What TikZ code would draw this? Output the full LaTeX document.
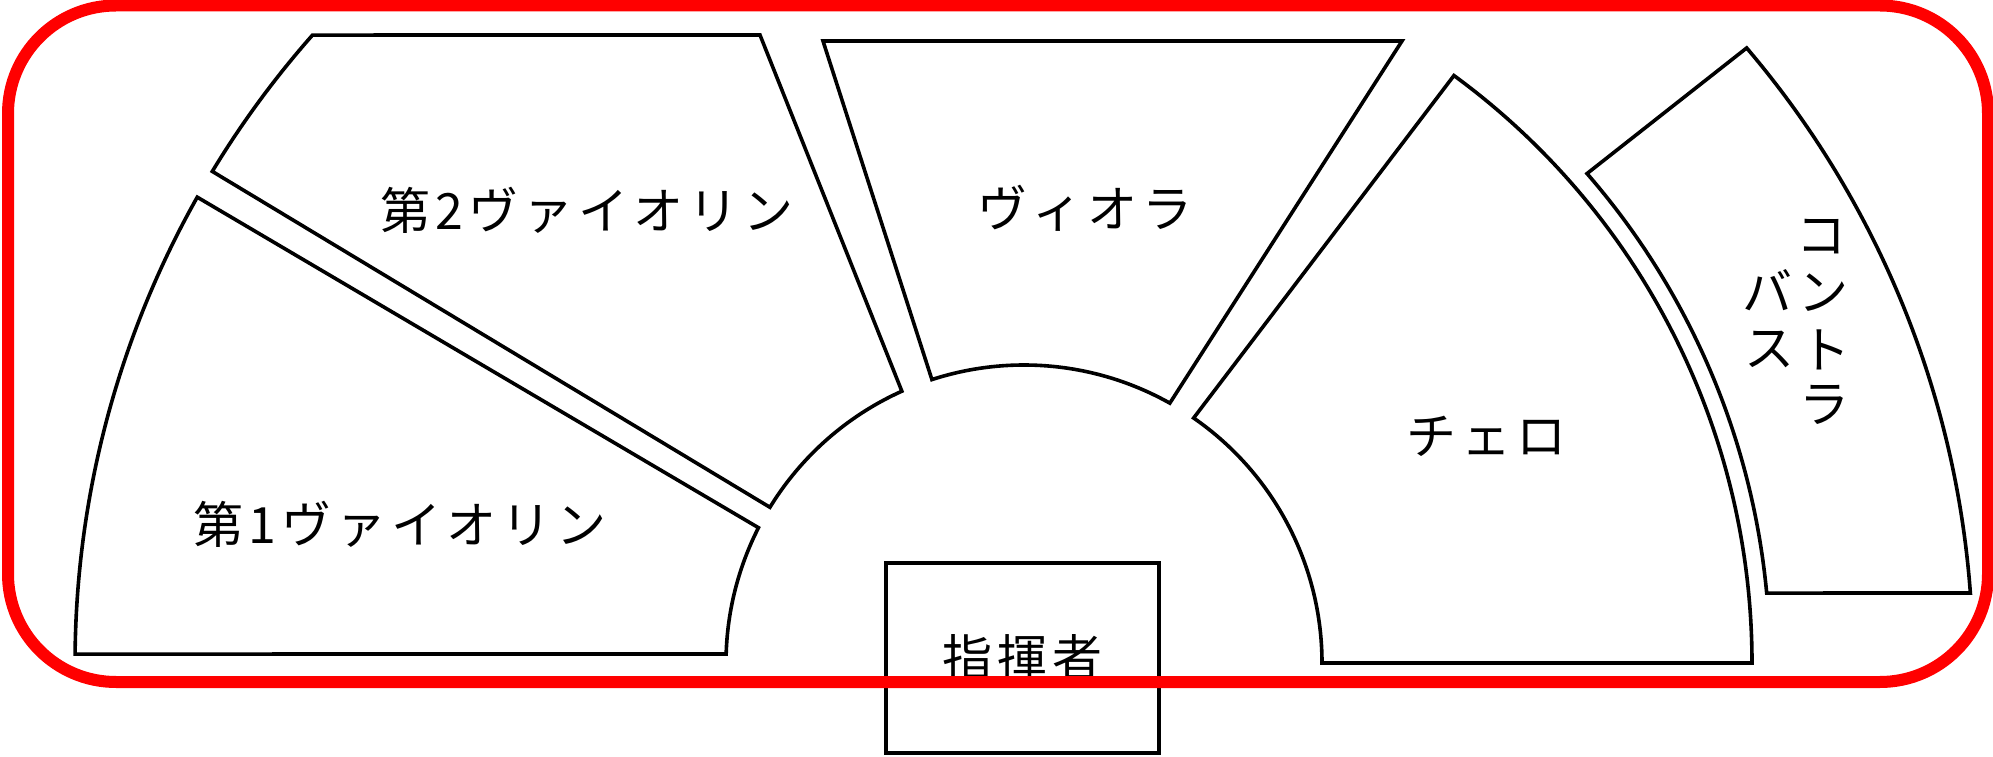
\documentclass[tikz,border=0pt]{standalone}
\usepackage{fontspec}
\newfontfamily\jp[LetterSpace=10]{Noto Sans CJK JP}
\begin{document}
\begin{tikzpicture}[x=0.5pt,y=0.5pt,
  part/.style={draw=black, line width=1.8pt, line join=miter},
  lbl/.style={font=\jp\fontsize{25pt}{28pt}\selectfont, inner sep=0pt},
  frame/.style={draw=red, line width=6pt, rounded corners=54pt}]
\useasboundingbox (0,0) rectangle (1993,756);
\begin{scope}[shift={(1024,93)}]
  % first violins
  \draw[part] (150.6:949) -- (153:298)
     arc[start angle=153, end angle=178.27, radius=298]
     -- (179.46:949)
     arc[start angle=179.46, end angle=150.6, radius=949] -- cycle;
  % second violins
  \draw[part] (114.2:298) -- (-264,628) -- (138.57:949)
     arc[start angle=138.57, end angle=148.8, radius=949]
     -- (148.5:298)
     arc[start angle=148.5, end angle=114.2, radius=298] -- cycle;
  % violas
  \draw[part] (108:298) -- (-201,622) -- (378,622) -- (60.7:298)
     arc[start angle=60.7, end angle=108, radius=298] -- cycle;
  % cellos
  \draw[part] (55.3:298) -- (53.8:728)
     arc[start angle=53.8, end angle=0, radius=728]
     -- (0:298)
     arc[start angle=0, end angle=55.3, radius=298] -- cycle;
  % double basses
  \draw[part] (41:746) -- (40.4:949)
     arc[start angle=40.4, end angle=4.23, radius=949]
     -- (5.38:746)
     arc[start angle=5.38, end angle=41, radius=746] -- cycle;
\end{scope}
\node[lbl] (v2) at (587,546) {第2ヴァイオリン};
\node[lbl] (v1) at (400,232) {第1ヴァイオリン};
\node[lbl] (va) at (1085,548) {ヴィオラ};
\node[lbl] (vc) at (1486,320) {チェロ};
\node[lbl] (cb1) at (1821,519) {コ};
\node[lbl] (cb2) at (1823,463) {ン};
\node[lbl] (cb3) at (1825,406) {ト};
\node[lbl] (cb4) at (1824,351) {ラ};
\node[lbl] (cb5) at (1767,466) {バ};
\node[lbl] (cb6) at (1769,407) {ス};
\node[lbl, draw=black, line width=1.8pt, minimum width=136.5pt, minimum height=95pt]
   (cond) at (1022.5,98) {指揮者};
\draw[frame] (8,74) rectangle (1988,750.5);
\end{tikzpicture}
\end{document}
